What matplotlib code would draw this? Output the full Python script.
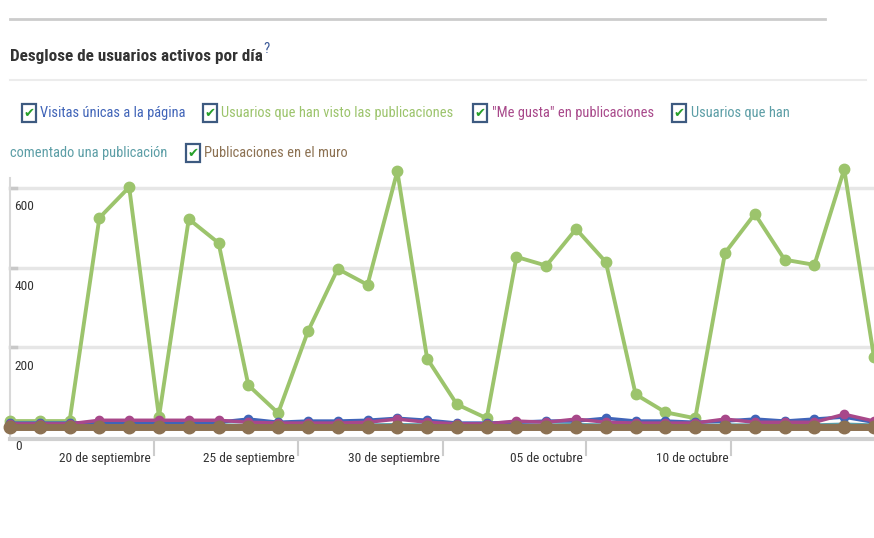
import matplotlib.pyplot as plt
from matplotlib.patches import Rectangle
from matplotlib.lines import Line2D
from matplotlib import transforms, font_manager

# fuente estrecha si existe, si no Roboto
instaladas = {f.name for f in font_manager.fontManager.ttflist}
fuente = 'Roboto'
escala = 1.0
for nombre in ['Liberation Sans Narrow', 'Roboto Condensed', 'Open Sans Condensed']:
    if nombre in instaladas:
        fuente = nombre
        escala = 1.2
        break
plt.rcParams['font.family'] = [fuente, 'DejaVu Sans']

# datos (lectura aproximada del grafico)
dias = list(range(30))
usuarios_vieron = [15, 15, 15, 525, 602, 25, 522, 462, 105, 35, 240, 397, 357, 642, 172,
                   57, 22, 427, 405, 497, 414, 82, 37, 22, 437, 535, 420, 407, 647, 175]
visitas_unicas = [10, 10, 10, 12, 12, 12, 12, 12, 20, 12, 15, 15, 17, 22, 17,
                  10, 10, 12, 15, 15, 22, 15, 15, 12, 15, 20, 15, 20, 25, 12]
me_gusta = [8, 8, 8, 17, 17, 17, 17, 17, 12, 10, 10, 10, 12, 20, 12,
            8, 8, 15, 12, 20, 12, 10, 10, 10, 20, 12, 12, 12, 32, 15]
comentarios = [4, 4, 4, 5, 5, 5, 5, 5, 4, 4, 5, 5, 5, 6, 5,
               4, 4, 5, 5, 6, 5, 4, 4, 4, 5, 5, 5, 5, 7, 5]
publicaciones_muro = [1, 1, 1, 1, 1, 1, 1, 1, 1, 1, 1, 1, 1, 1, 1,
                      1, 1, 1, 1, 1, 1, 1, 1, 1, 1, 1, 1, 1, 1, 1]

fechas = ["20 de septiembre", "25 de septiembre", "30 de septiembre",
          "05 de octubre", "10 de octubre"]
pos_fechas = [4.84, 9.67, 14.54, 19.34, 24.21]

valores_y = [200, 400, 600]

series = ["Visitas únicas a la página", "Usuarios que han visto las publicaciones",
          "\"Me gusta\" en publicaciones", "Usuarios que han",
          "comentado una publicación", "Publicaciones en el muro"]
azul = '#4064b8'
verde = '#9cc46c'
morado = '#a8488a'
turquesa = '#5c9ea6'
marron = '#8c7152'

W, H = 874, 538
fig = plt.figure(figsize=(W / 100, H / 100), dpi=100)


def fx(x):
    return x / W


def fy(y):
    return 1 - y / H


tam = 8.7 * escala
tam_fechas = 8.0 * escala

ax = fig.add_axes([fx(10), fy(439), fx(864), (439 - 178) / H])
ax.set_xlim(0, 29)
ax.set_ylim(-30, 625)

# lineas de la cuadricula
for v in valores_y:
    ax.axhline(v, color='#e6e6e6', lw=2.5, zorder=0)
    ax.plot([0, 0.2], [v, v], color='#c8c8c8', lw=2.5, zorder=1, clip_on=False)

ax.plot(dias, usuarios_vieron, color=verde, lw=2.8, marker='o', ms=7.5, zorder=3, clip_on=False)
ax.plot(dias, comentarios, color=turquesa, lw=2.5, marker='o', ms=6, zorder=4, clip_on=False)
ax.plot(dias, visitas_unicas, color=azul, lw=2.5, marker='o', ms=6, zorder=4, clip_on=False)
ax.plot(dias, me_gusta, color=morado, lw=2.5, marker='o', ms=6, zorder=5, clip_on=False)
ax.plot(dias, publicaciones_muro, color=marron, lw=5, marker='o', ms=9, zorder=6, clip_on=False)

for s in ['top', 'right']:
    ax.spines[s].set_visible(False)
ax.spines['left'].set_color('#d8d8d8')
ax.spines['left'].set_linewidth(1.5)
ax.spines['bottom'].set_color('#d0d0d0')
ax.spines['bottom'].set_linewidth(3)
ax.set_xticks([])
ax.set_yticks([])

# etiquetas del eje y (debajo de cada linea)
desplazar = transforms.offset_copy(ax.get_yaxis_transform(), fig=fig, x=0, y=-19, units='dots')
for v in valores_y:
    ax.text(0.005, v, str(v), transform=desplazar, fontsize=tam_fechas, color='#333333',
            ha='left', va='center')
ax.text(0.006, -30, "0", transform=transforms.offset_copy(ax.get_yaxis_transform(), fig=fig,
        x=0, y=-7, units='dots'), fontsize=tam_fechas, color='#333333', ha='left', va='center')

# marcas y fechas del eje x
for p, f in zip(pos_fechas, fechas):
    ax.plot([p, p], [-30, -70], color='#cccccc', lw=1.5, clip_on=False)
    ax.text(p, -78, f, fontsize=tam_fechas, color='#333333', ha='right', va='center',
            transform=transforms.offset_copy(ax.transData, fig=fig, x=-3, y=0, units='dots'))

# titulo y separadores
fig.add_artist(Line2D([fx(10), fx(825)], [fy(19), fy(19)], color='#cccccc', lw=2))
fig.add_artist(Line2D([fx(10), fx(866)], [fy(80), fy(80)], color='#ececec', lw=1.5))
fig.text(fx(10), fy(57), "Desglose de usuarios activos por día", fontsize=10.3 * escala,
         fontweight='bold', color='#333333', ha='left', va='center')
fig.text(fx(263), fy(49), "?", fontsize=tam, color='#3b5998', ha='left', va='center')

# leyenda con casillas
colores = [azul, verde, morado, turquesa, turquesa, marron]
casillas = [22, 203, 473, 672, None, 186]
textos_x = [40, 221, 492, 691, 10, 204]
filas = [113, 113, 113, 113, 153, 153]
for lab, c, cx, tx, fila in zip(series, colores, casillas, textos_x, filas):
    if cx is not None:
        fig.add_artist(Rectangle((fx(cx), fy(fila + 9)), 14 / W, 18 / H, transform=fig.transFigure,
                                 facecolor='white', edgecolor='#3d5a80', lw=1.6))
        fig.text(fx(cx + 7.5), fy(fila + 0.5), "✔", fontsize=9.5, color='#27a02a',
                 ha='center', va='center', family='DejaVu Sans')
    fig.text(fx(tx), fy(fila), lab, fontsize=tam, color=c, ha='left', va='center')

fig.savefig("out.png", dpi=100)
